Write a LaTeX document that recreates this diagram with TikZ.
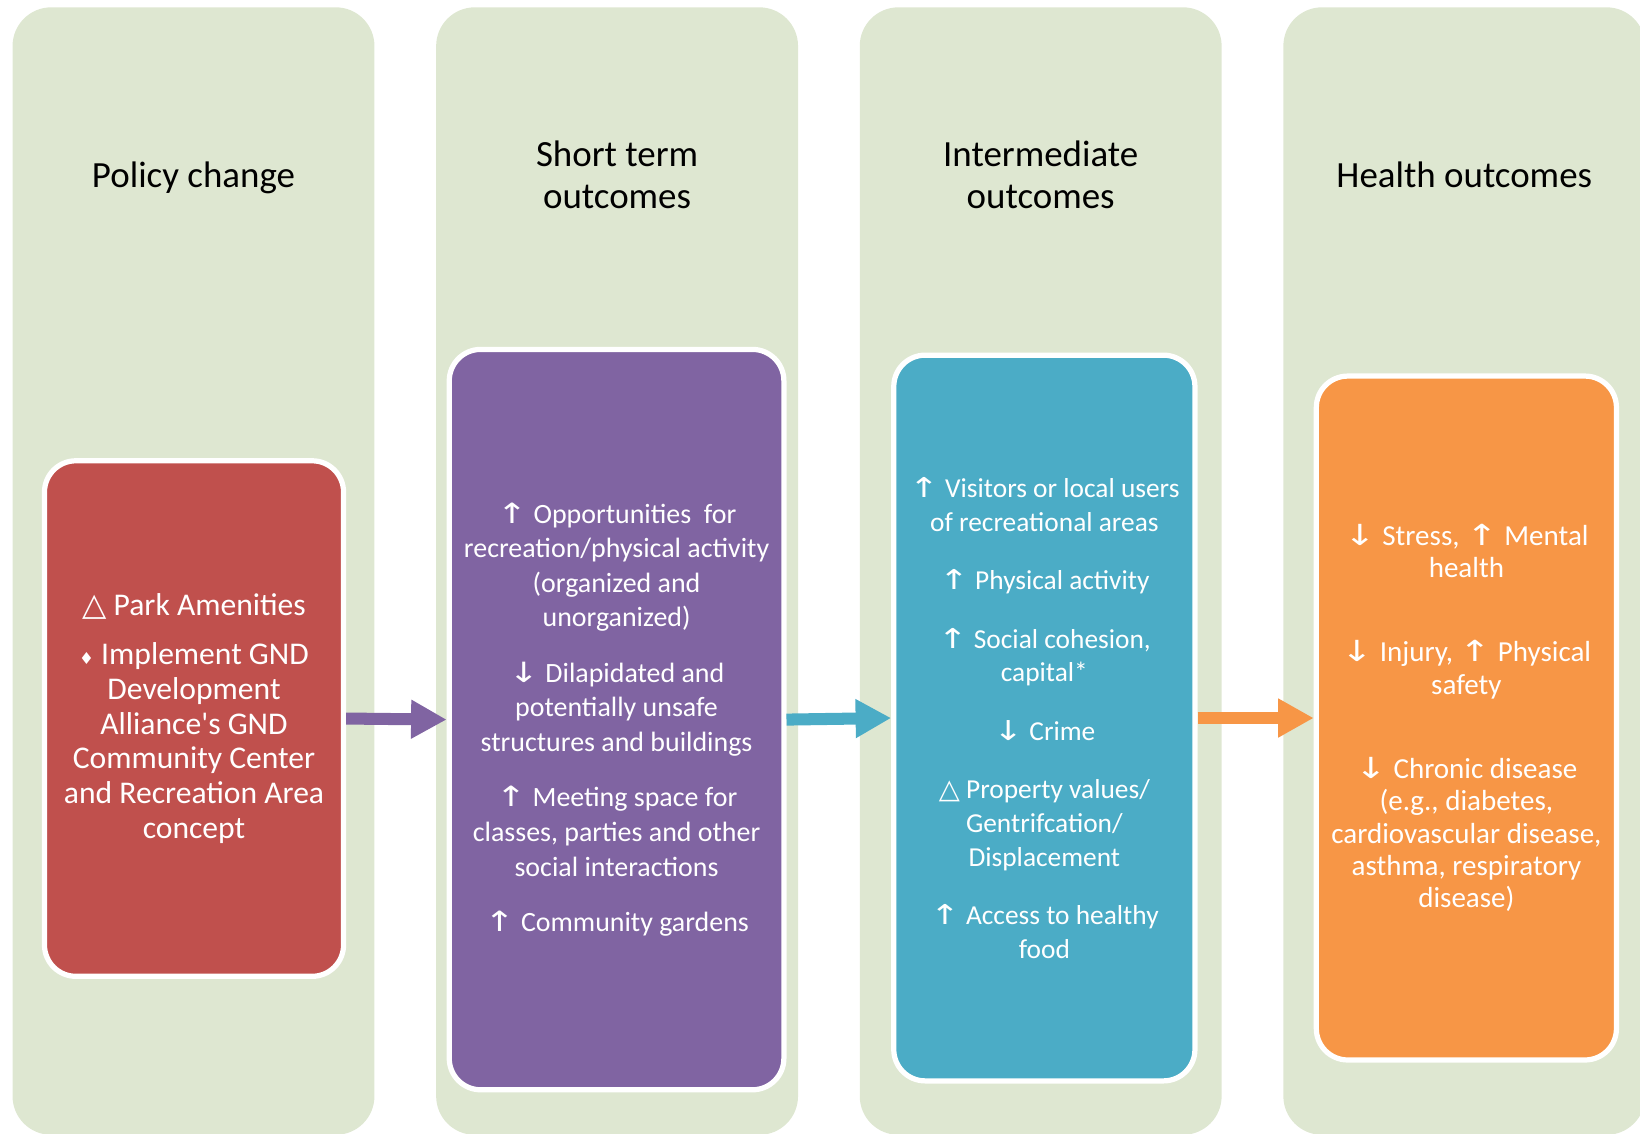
\documentclass[tikz,border=0pt]{standalone}
\usepackage{fontspec}
\setmainfont{Carlito}
\newfontfamily\symf{DejaVu Sans}
\usetikzlibrary{arrows.meta}
\definecolor{colbg}{RGB}{222,231,209}
\definecolor{redbox}{RGB}{192,80,77}
\definecolor{purplebox}{RGB}{128,100,162}
\definecolor{bluebox}{RGB}{75,172,198}
\definecolor{orangebox}{RGB}{247,150,70}
\newcommand{\incr}{\scalebox{1.3}[1]{\symf ↑}}
\newcommand{\decr}{\scalebox{1.3}[1]{\symf ↓}}
\newcommand{\chgtri}{{\symf △}}
\newcommand{\dmnd}{{\symf\fontsize{9}{9}\selectfont ♦}}
\tikzset{
  colhead/.style={align=center, font=\fontsize{20.1}{22.7}\selectfont},
  stage/.style={draw=white, line width=0.1cm, rounded corners=0.6cm, text=white, align=center},
  flowarrow/.style={draw=#1, line width=0.23cm, -{Triangle[length=0.68cm,width=0.7cm]}}
}

\begin{document}
\begin{tikzpicture}[x=0.02cm, y=-0.02cm]
    \useasboundingbox (0,0) rectangle (1568,1084);
    \clip (0,0) rectangle (1568,1084);
    \foreach \i in {0,...,3}{
        \fill[colbg, rounded corners=0.74cm] ({12+405*\i},7) rectangle ({358+405*\i},1085);
    }
    \node[colhead] (policyhead) at (185,170) {Policy change};
    \node[colhead] (shorthead) at (590,167) {Short term\\outcomes};
    \node[colhead] (interhead) at (995,167) {Intermediate\\outcomes};
    \node[colhead] (healthhead) at (1400,167) {Health outcomes};

    \node[stage, fill=redbox, minimum width=5.72cm, minimum height=9.86cm,
          font=\fontsize{17.2}{19}\selectfont] (policy) at (185.5,687)
        {\chgtri{} Park Amenities\\[0.27cm]
         \dmnd{} Implement GND\\Development\\Alliance\textquotesingle s GND\\Community Center\\and Recreation Area\\concept};
    \node[stage, fill=purplebox, minimum width=6.4cm, minimum height=14.16cm,
          font=\fontsize{15.2}{18.8}\selectfont] (short) at (589.5,688)
        {\incr{} Opportunities~ for\\recreation/physical activity\\(organized and\\unorganized)\\[0.4cm]
         \decr{} Dilapidated and\\potentially unsafe\\structures and buildings\\[0.4cm]
         \incr{} Meeting space for\\classes, parties and other\\social interactions\\[0.4cm]
         \incr{} Community gardens};
    \node[stage, fill=bluebox, minimum width=5.76cm, minimum height=13.88cm,
          font=\fontsize{14.9}{18.4}\selectfont] (inter) at (998.5,686.5)
        {\incr{} Visitors or local users\\of recreational areas\\[0.47cm]
         \incr{} Physical activity\\[0.47cm]
         \incr{} Social cohesion,\\capital*\\[0.47cm]
         \decr{} Crime\\[0.47cm]
         \chgtri{} Property values/\\Gentrifcation/\\Displacement\\[0.47cm]
         \incr{} Access to healthy\\food};
    \node[stage, fill=orangebox, minimum width=5.74cm, minimum height=13.08cm,
          font=\fontsize{15.8}{17.6}\selectfont] (health) at (1402,686.5)
        {\decr{} Stress, \incr{} Mental\\health\\[0.99cm]
         \decr{} Injury, \incr{} Physical\\safety\\[0.99cm]
         \decr{} Chronic disease\\(e.g., diabetes,\\cardiovascular disease,\\asthma, respiratory\\disease)};

    \draw[flowarrow=purplebox] (policy.east) -- (short.west);
    \draw[flowarrow=bluebox] (short.east) -- (inter.west);
    \draw[flowarrow=orangebox] (inter.east) -- (health.west);
\end{tikzpicture}
\end{document}
